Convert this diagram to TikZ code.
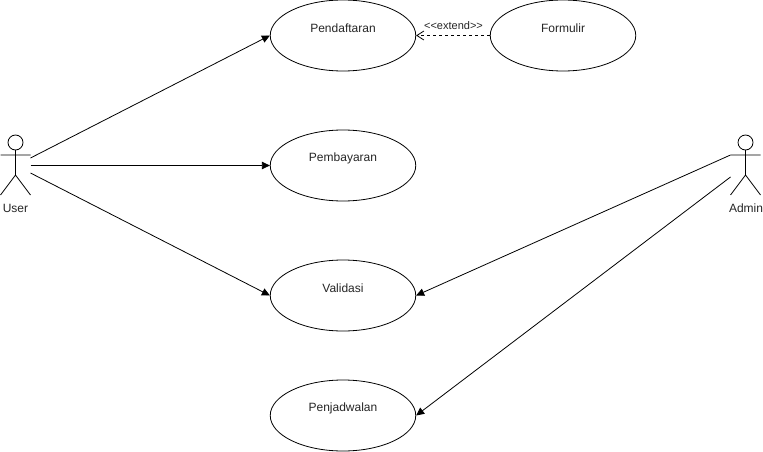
\documentclass[tikz,border=0pt]{standalone}
\usepackage{fontspec}
\setmainfont{Liberation Sans}
\usetikzlibrary{shapes.geometric,arrows.meta}
\tikzset{
  usecase/.style={draw=black,fill=white,ellipse,minimum width=145.5pt,minimum height=71pt,inner sep=0pt,line width=0.8pt,
    label={[text=black!85,font=\fontsize{12}{14}\selectfont,yshift=7pt]center:#1}},
  actorline/.style={draw=black,line width=0.8pt},
  actorname/.style={text=black!85,font=\fontsize{12}{14}\selectfont,inner sep=0pt},
  assoc/.style={draw=black,line width=0.8pt,-{Triangle[length=8pt,width=7.5pt]}},
  ext/.style={draw=black,line width=0.8pt,dashed,dash pattern=on 3pt off 3pt,-{Straight Barb[length=7pt,width=9pt,line width=0.8pt]}},
  extlabel/.style={text=black!85,font=\fontsize{11}{13}\selectfont,inner sep=0pt},
  actorbox/.style={minimum width=30pt,minimum height=60pt,inner sep=0pt}
}
\begin{document}
\begin{tikzpicture}[x=1pt,y=-1pt]
\useasboundingbox[fill=white] (0,0) rectangle (763,452);
\node[usecase=Pendaftaran] (pend) at (343,35.5) {};
\node[usecase=Formulir] (form) at (563,35.5) {};
\node[usecase=Pembayaran] (bayar) at (343,165.5) {};
\node[usecase=Validasi] (valid) at (343,295.5) {};
\node[usecase=Penjadwalan] (jadwal) at (343,415.5) {};
% User actor
\node[actorbox] (user) at (15.5,165.5) {};
\draw[actorline] (15.5,142.5) circle (7.5);
\draw[actorline] (15.5,150) -- (15.5,175) (0.5,155) -- (30.5,155) (0.5,195) -- (15.5,175) -- (30.5,195);
\node[actorname] (userl) at (15.5,208.5) {User};
% Admin actor
\node[actorbox] (admin) at (745.5,165.5) {};
\draw[actorline] (745.5,142.5) circle (7.5);
\draw[actorline] (745.5,150) -- (745.5,175) (730.5,155) -- (760.5,155) (730.5,195) -- (745.5,175) -- (760.5,195);
\node[actorname] (adminl) at (746,208.5) {Admin};
% connector ends on the actors
\coordinate (u1) at (30.5,158);
\coordinate (u3) at (30.5,173);
\coordinate (a1) at (730.5,155);
\coordinate (a2) at (730.5,177);
\draw[assoc] (u1) -- (pend.west);
\draw[assoc] (user.east) -- (bayar.west);
\draw[assoc] (u3) -- (valid.west);
\draw[assoc] (a1) -- (valid.east);
\draw[assoc] (a2) -- (jadwal.east);
\draw[ext] (form.west) -- (pend.east);
\node[extlabel] (extl) at (453.5,26) {<{}<extend>{}>};
\end{tikzpicture}
\end{document}
